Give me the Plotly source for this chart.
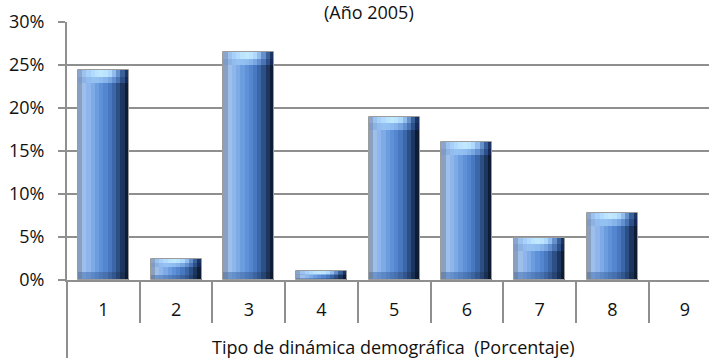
import plotly.graph_objects as go

# Demographic dynamics types and their share (%), year 2005
categories = ["1", "2", "3", "4", "5", "6", "7", "8", "9"]
values = [24.4, 2.5, 26.5, 1.0, 19.0, 16.0, 4.9, 7.8, 0.0]
y_ticks = [0, 5, 10, 15, 20, 25, 30]
y_tick_labels = ["0%", "5%", "10%", "15%", "20%", "25%", "30%"]

positions = list(range(1, len(categories) + 1))

FONT = "Open Sans"
GRID = "#8f8f8f"
BAR_W = 0.70

# Horizontal shading of each bar (left -> right), split into vertical strips
body = ["#8aa0c0", "#9dbfe9", "#8fb6ec", "#7eaae6", "#6c9ddf", "#5e91d8",
        "#5386cf", "#4878bf", "#3b66a8", "#2c4f86", "#1c3660", "#0e1c36"]
cap_hi = ["#8aa6ce", "#9cc2ee", "#a8d0fa", "#b2dcff", "#bce4ff", "#c0e8ff",
          "#bce4ff", "#aed8fc", "#92bcee", "#6690cc", "#3a6098", "#1c3464"]
cap_lo = ["#7f9cc6", "#8db2e2", "#92bcee", "#94c0f2", "#92c0f2", "#8ebcf0",
          "#86b4ea", "#78a6e0", "#6290d0", "#4a74b2", "#2e5088", "#16295a"]
foot = ["#6d86ac", "#6e96cc", "#6590cc", "#5c88c6", "#5480c0", "#4d78b8",
        "#4670ae", "#3e64a0", "#33568c", "#274472", "#1a3052", "#0e1a30"]
n = len(body)
sw = BAR_W / n

cap_h = [min(1.5, 0.4 * v) for v in values]
foot_h = [min(0.9, 0.25 * v) for v in values]
mid_base = foot_h
mid_h = [v - c - f for v, c, f in zip(values, cap_h, foot_h)]
cap_lo_base = [v - c for v, c in zip(values, cap_h)]
cap_lo_h = [c * 0.5 for c in cap_h]
cap_hi_base = [v - c * 0.5 for v, c in zip(values, cap_h)]
cap_hi_h = [c * 0.5 for c in cap_h]

fig = go.Figure()
for i in range(n):
    off = -BAR_W / 2 + i * sw
    for base, h, col in ((0, foot_h, foot[i]), (mid_base, mid_h, body[i]),
                         (cap_lo_base, cap_lo_h, cap_lo[i]),
                         (cap_hi_base, cap_hi_h, cap_hi[i])):
        fig.add_trace(go.Bar(
            x=positions, y=h, base=base, width=sw * 1.02, offset=off,
            marker=dict(color=col, line=dict(width=0)),
            hoverinfo="skip", showlegend=False))

# thin outline around each non-empty bar
outline = ["#9c9c9c" if v > 0 else "rgba(0,0,0,0)" for v in values]
fig.add_trace(go.Bar(
    x=positions, y=values, width=BAR_W, offset=-BAR_W / 2,
    marker=dict(color="rgba(0,0,0,0)", line=dict(color=outline, width=1)),
    hovertemplate="%{y:.1f}%<extra></extra>", showlegend=False))

fig.update_layout(
    width=709, height=358,
    margin=dict(l=67, r=0, t=22, b=78),
    paper_bgcolor="white", plot_bgcolor="white",
    barmode="overlay", bargap=0,
    font=dict(family=FONT, size=18, color="#111111"),
    xaxis=dict(
        range=[0.5, 9.33], tickmode="array", tickvals=positions,
        ticktext=categories, ticks="", showgrid=False, zeroline=False,
        showline=True, linecolor=GRID, linewidth=2,
        ticklabelstandoff=12,
        minor=dict(tickmode="array", tickvals=[p + 0.5 for p in positions[:-1]],
                   ticks="outside", ticklen=41, tickwidth=2, tickcolor=GRID,
                   showgrid=False),
    ),
    yaxis=dict(
        range=[0, 30], tickmode="array", tickvals=y_ticks,
        ticktext=y_tick_labels,
        showgrid=True, gridcolor=GRID, gridwidth=2, zeroline=False,
        showline=True, linecolor=GRID, linewidth=2,
        ticks="outside", ticklen=7, tickwidth=2, tickcolor=GRID,
        ticklabelstandoff=10,
    ),
    shapes=[dict(type="line", xref="paper", yref="paper", x0=0, x1=0,
                 y0=0, y1=-78 / 258, line=dict(color=GRID, width=2))],
    annotations=[
        dict(text="(Año 2005)", xref="paper", yref="paper",
             x=(369 - 67) / 642, y=(280 - 12.5) / 258, xanchor="center",
             yanchor="middle", showarrow=False, font=dict(size=18)),
        dict(text="Tipo de dinámica demográfica\u00a0 (Porcentaje)",
             xref="paper", yref="paper", x=(393.5 - 67) / 642,
             y=(280 - 347) / 258, xanchor="center", yanchor="middle",
             showarrow=False, font=dict(size=18)),
    ],
)

fig.write_html("out.html")
